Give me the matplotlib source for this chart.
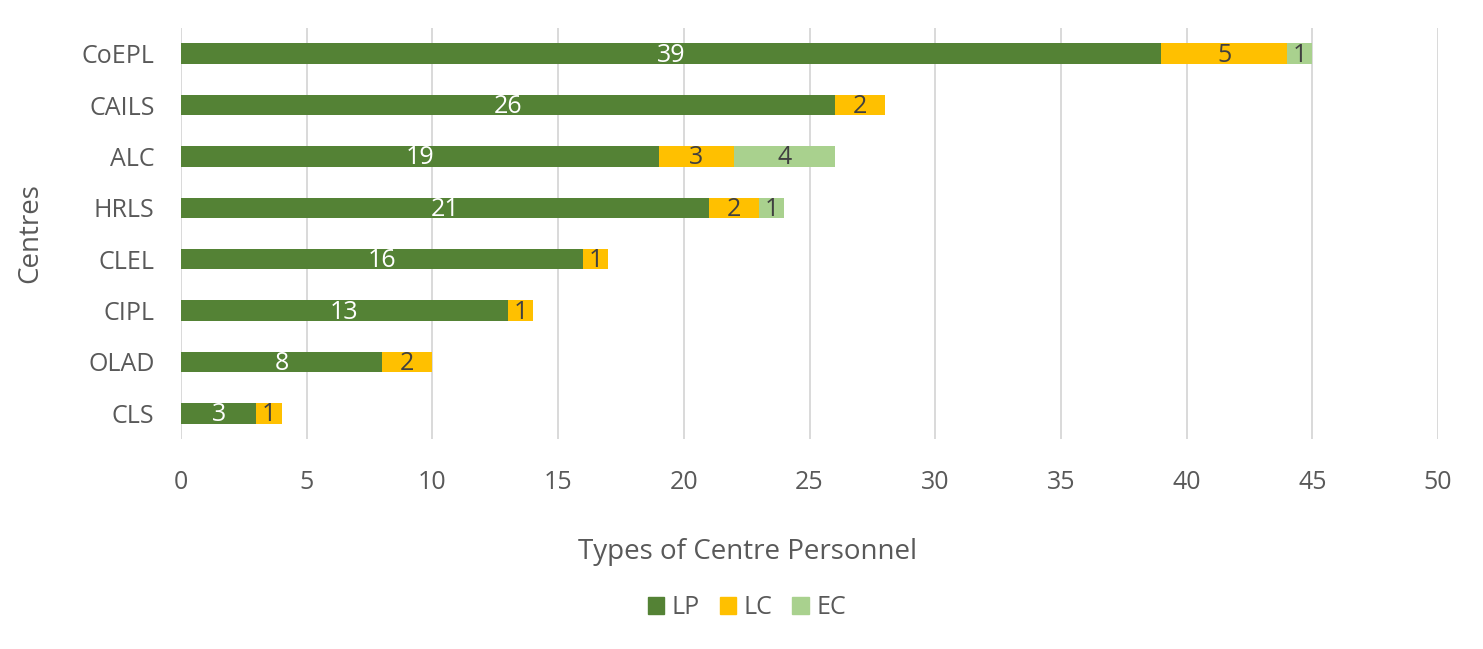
import matplotlib.pyplot as plt
from matplotlib.patches import Patch
import numpy as np

centres = ['CoEPL', 'CAILS', 'ALC', 'HRLS', 'CLEL', 'CIPL', 'OLAD', 'CLS']
lp = [39, 26, 19, 21, 16, 13, 8, 3]
lc = [5, 2, 3, 2, 1, 1, 2, 1]
ec = [1, 0, 4, 1, 0, 0, 0, 0]
series = ['LP', 'LC', 'EC']

colors = ['#548235', '#FFC000', '#A9D18E']
label_colors = ['white', '#404040', '#404040']
txt = '#595959'

plt.rcParams['font.family'] = ['Open Sans', 'DejaVu Sans']

fig = plt.figure(figsize=(14.83, 6.49), dpi=100)
ax = fig.add_axes([181/1483, 1 - 439/649, (1438 - 181)/1483, (439 - 28)/649])

y = np.arange(len(centres))
left = np.zeros(len(centres))
for vals, col, lcol in zip([lp, lc, ec], colors, label_colors):
    vals = np.array(vals, dtype=float)
    bars = ax.barh(y, vals, left=left, height=0.4, color=col, zorder=3)
    for b, v in zip(bars, vals):
        if v > 0:
            ax.text(b.get_x() + b.get_width()/2, b.get_y() + b.get_height()/2 + 0.03,
                    str(int(v)), ha='center', va='center', color=lcol,
                    fontsize=18, zorder=4)
    left += vals

ax.set_xlim(0, 50)
ax.set_ylim(len(centres) - 0.5, -0.5)
ax.set_xticks(np.arange(0, 51, 5))
ax.set_yticks(y)
ax.set_yticklabels(centres)
ax.grid(axis='x', color='#D9D9D9', linewidth=1.4, zorder=0)
ax.tick_params(length=0, labelsize=18, colors=txt)
ax.tick_params(axis='x', pad=22)
ax.tick_params(axis='y', pad=19)
for s in ax.spines.values():
    s.set_visible(False)

ax.set_xlabel('Types of Centre Personnel', fontsize=20, color=txt, va='center')
ax.xaxis.set_label_coords((748 - 181) / 1257, (439 - 552) / 411)
ax.set_ylabel('Centres', fontsize=20, color=txt, va='center')
ax.yaxis.set_label_coords((30 - 181) / 1257, 0.5)

handles = [Patch(color=c, label=s) for c, s in zip(colors, series)]
fig.legend(handles=handles, loc='center', bbox_to_anchor=(747/1483, 1 - 608/649),
           ncol=3, frameon=False, fontsize=18, labelcolor=txt,
           handlelength=0.65, handleheight=0.65, handletextpad=0.3, columnspacing=0.8)

fig.savefig('out.png', dpi=100)
